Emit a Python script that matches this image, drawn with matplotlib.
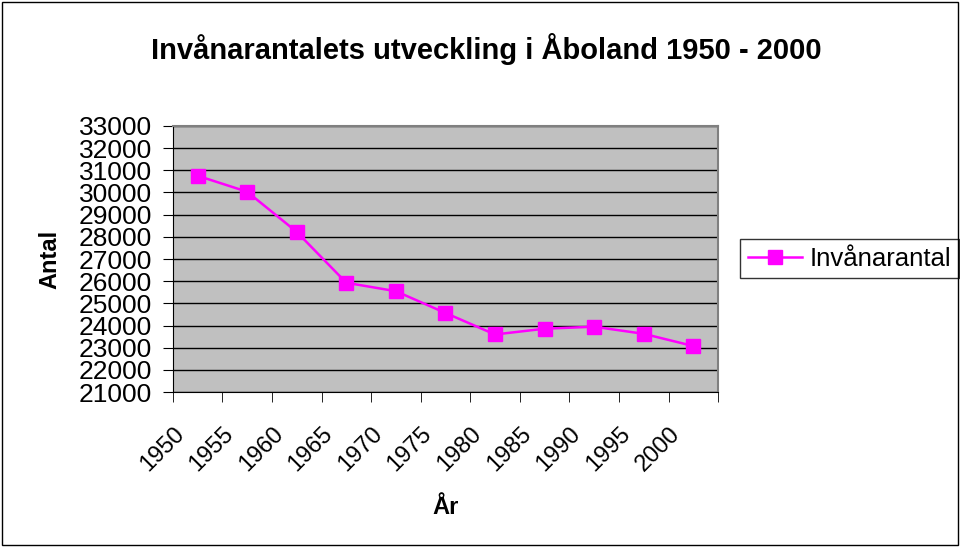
import numpy as np
import matplotlib
matplotlib.use("Agg")
import matplotlib.pyplot as plt
import matplotlib.transforms as mtransforms
from matplotlib.patches import Rectangle

plt.rcParams['font.family'] = ['Liberation Sans', 'DejaVu Sans']

# Data
ar = ["1950", "1955", "1960", "1965", "1970", "1975", "1980", "1985", "1990", "1995", "2000"]
antal = [30750, 30030, 28220, 25930, 25550, 24570, 23600, 23860, 23950, 23630, 23080]
y_ticks = list(range(21000, 34000, 1000))

fig = plt.figure(figsize=(9.6, 5.47), dpi=100)
fig.patch.set_facecolor("white")
fig.add_artist(Rectangle((0.002, 0.003), 0.996, 0.994, transform=fig.transFigure,
                         fill=False, edgecolor="black", linewidth=1))

ax = fig.add_axes([0.180, 0.283, 0.568, 0.487])
ax.set_facecolor("#C0C0C0")

x = np.arange(len(ar))
ax.plot(x, antal, color="#FF00FF", linewidth=1.8, marker="s", markersize=10,
        label="Invånarantal")

ax.set_xlim(-0.5, len(ar) - 0.5)
ax.set_ylim(21000, 33000)
ax.set_yticks(y_ticks)
ax.set_yticklabels([str(v) for v in y_ticks], fontsize=19)
ax.yaxis.grid(True, color="black", linewidth=1)
ax.set_axisbelow(True)

# ticks at category borders, labels at centers
ax.set_xticks(x)
ax.set_xticklabels(ar, rotation=45, ha="right", fontsize=17)
ax.set_xticks(np.arange(-0.5, len(ar)), minor=True)
ax.tick_params(axis="x", which="major", length=0, pad=22)
ax.tick_params(axis="x", which="minor", length=7, direction="out", color="black")
ax.tick_params(axis="y", length=7, direction="out", pad=8)
offset = mtransforms.ScaledTranslation(-9 / 100, 0, fig.dpi_scale_trans)
for lbl in ax.get_xticklabels():
    lbl.set_transform(lbl.get_transform() + offset)

for s in ["top", "right"]:
    ax.spines[s].set_color("#808080")
    ax.spines[s].set_linewidth(1.5)
ax.spines["left"].set_color("black")
ax.spines["bottom"].set_color("black")

ax.set_ylabel("Antal", fontsize=17, fontweight="bold")
ax.yaxis.set_label_coords(-0.204, 0.5)
ax.set_xlabel("År", fontsize=17, fontweight="bold")
ax.xaxis.set_label_coords(0.5, -0.39)
fig.suptitle("Invånarantalets utveckling i Åboland 1950 - 2000", fontsize=21,
             fontweight="bold", x=0.507, y=0.94)

leg = ax.legend(loc="center left", bbox_to_anchor=(740 / 960, 1 - 258.5 / 547),
                bbox_transform=fig.transFigure, fontsize=18.5,
                frameon=True, fancybox=False, edgecolor="black",
                handlelength=2.1, handletextpad=0.3, borderpad=0.3, borderaxespad=0)
leg.get_frame().set_linewidth(1)

fig.savefig("out.png", dpi=100)
